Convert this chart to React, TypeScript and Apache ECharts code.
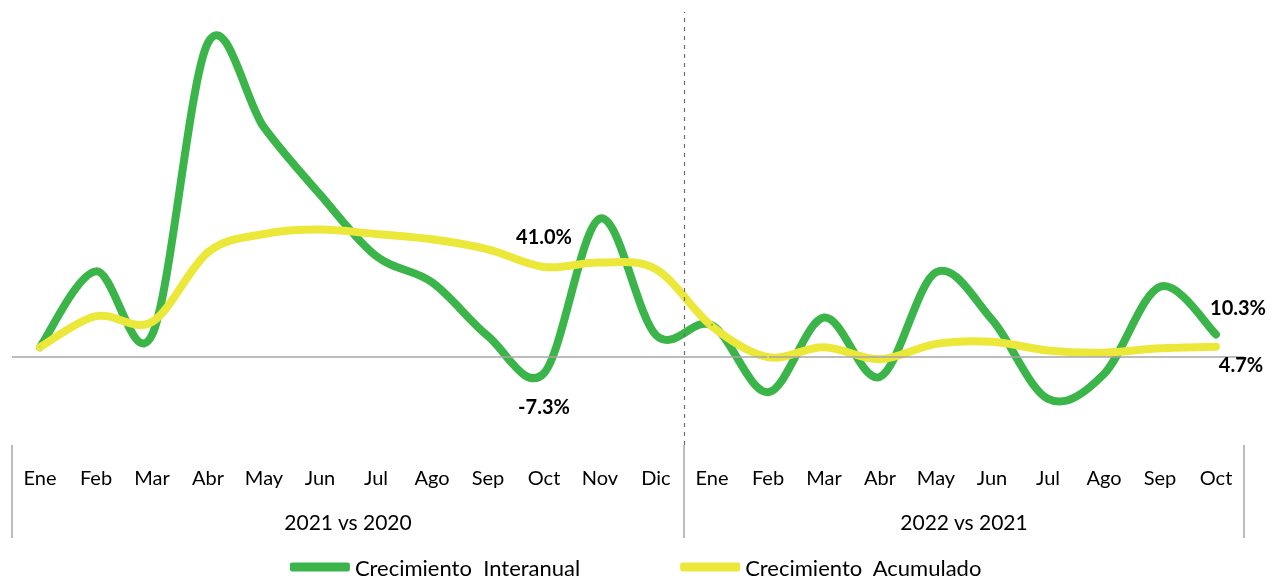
import React, { useEffect, useRef } from "react";
import * as echarts from "echarts";

const months2021 = ["Ene", "Feb", "Mar", "Abr", "May", "Jun", "Jul", "Ago", "Sep", "Oct", "Nov", "Dic"];
const months2022 = ["Ene", "Feb", "Mar", "Abr", "May", "Jun", "Jul", "Ago", "Sep", "Oct"];
const groupLabels = ["2021 vs 2020", "2022 vs 2021"];

const interanual = [4.5, 39, 10, 143, 104.5, 74, 46, 34, 9.5, -7.3, 63, 10, 14.5, -16, 18, -9, 38.6, 17, -19, -7.7, 32, 10.3];
const acumulado = [4.5, 18.6, 16, 47.7, 56, 58, 56, 53.6, 49, 41.0, 43, 40, 14, 0, 4.5, -1, 6, 7, 3, 2, 4, 4.7];

const FONT = "Lato, 'Noto Sans', sans-serif";
const GREEN = "#3bb54a";
const YELLOW = "#ebe83a";

function smoothSeries(name: string, values: number[], color: string, z: number) {
  return {
    name: name + "-curve",
    type: "custom",
    coordinateSystem: "cartesian2d",
    xAxisIndex: 0,
    yAxisIndex: 0,
    z,
    silent: true,
    encode: { x: 0, y: 1 },
    data: values.map((v, i) => [i, v]),
    renderItem: (params: any, api: any) => {
      if (params.dataIndex !== 0) return null;
      const pts = values.map((v, i) => api.coord([i, v]));
      const n = pts.length;
      const P = (k: number) => pts[Math.max(0, Math.min(n - 1, k))];
      let d = `M${pts[0][0]},${pts[0][1]}`;
      for (let i = 0; i < n - 1; i++) {
        const p0 = P(i - 1), p1 = P(i), p2 = P(i + 1), p3 = P(i + 2);
        const c1x = p1[0] + (p2[0] - p0[0]) / 6;
        const c1y = p1[1] + (p2[1] - p0[1]) / 6;
        const c2x = p2[0] - (p3[0] - p1[0]) / 6;
        const c2y = p2[1] - (p3[1] - p1[1]) / 6;
        d += ` C${c1x},${c1y} ${c2x},${c2y} ${p2[0]},${p2[1]}`;
      }
      return {
        type: "path",
        shape: { pathData: d },
        style: { fill: "none", stroke: color, lineWidth: 8, lineCap: "round", lineJoin: "round" },
      };
    },
  };
}

export default function App() {
  const ref = useRef<HTMLDivElement>(null);
  useEffect(() => {
    if (!ref.current) return;
    const chart = echarts.init(ref.current, undefined, { renderer: "svg" });
    const cats = [...months2021, ...months2022].map((m, i) => `${m}#${i}`);
    const n2021 = months2021.length;
    const total = cats.length;
    const fmt = (p: any) => `${Number(p.value).toFixed(1)}%`;
    const lbl = { show: true, fontFamily: FONT, fontSize: 20, fontWeight: "bold", color: "#000", formatter: fmt };

    const greenData: any[] = interanual.map((v) => v);
    greenData[9] = { value: interanual[9], label: { ...lbl, position: "bottom", distance: 22 } };
    greenData[total - 1] = { value: interanual[total - 1], label: { ...lbl, position: "top", distance: 16, offset: [22, 0] } };
    const yellowData: any[] = acumulado.map((v) => v);
    yellowData[9] = { value: acumulado[9], label: { ...lbl, position: "top", distance: 20 } };
    yellowData[total - 1] = { value: acumulado[total - 1], label: { ...lbl, position: "bottom", distance: 6, offset: [25, 0] } };

    chart.setOption({
      animation: false,
      grid: { left: 12, right: 28, top: 12, bottom: 135, containLabel: false },
      legend: {
        data: [
          { name: "Crecimiento  Interanual", icon: "roundRect", itemStyle: { color: GREEN } },
          { name: "Crecimiento  Acumulado", icon: "roundRect", itemStyle: { color: YELLOW } },
        ],
        left: "center",
        top: 556,
        padding: 0,
        itemWidth: 60,
        itemHeight: 9,
        itemGap: 100,
        textStyle: { fontFamily: FONT, fontSize: 22, lineHeight: 22, color: "#000" },
      },
      xAxis: [
        {
          type: "category",
          data: cats,
          boundaryGap: true,
          position: "bottom",
          axisLine: { show: false, onZero: false },
          axisTick: {
            show: true,
            inside: false,
            length: 93,
            interval: (i: number) => i === 0 || i === n2021,
            lineStyle: { color: "#a6a6a6", width: 1.5 },
          },
          splitLine: { show: false },
          axisLabel: {
            interval: 0,
            margin: 22,
            fontFamily: FONT,
            fontSize: 20,
            color: "#000",
            formatter: (v: string) => v.split("#")[0],
          },
        },
        {
          type: "value",
          min: 0,
          max: total,
          interval: 1,
          position: "bottom",
          axisLine: { show: false, onZero: false },
          axisTick: { show: false },
          splitLine: { show: false },
          axisLabel: {
            margin: 66,
            fontFamily: FONT,
            fontSize: 21,
            color: "#000",
            showMinLabel: true,
            showMaxLabel: true,
            formatter: (v: number) =>
              v === n2021 / 2 ? groupLabels[0] : v === n2021 + (total - n2021) / 2 ? groupLabels[1] : "",
          },
        },
      ],
      yAxis: {
        type: "value",
        min: -40,
        max: 157,
        show: false,
        splitLine: { show: false },
      },
      series: [
        {
          name: "ref",
          type: "line",
          xAxisIndex: 1,
          data: [],
          z: 1,
          markLine: {
            silent: true,
            symbol: "none",
            label: { show: false },
            data: [
              { yAxis: 0, lineStyle: { type: "solid", color: "#a6a6a6", width: 1.5 } },
              { xAxis: n2021, lineStyle: { type: [4, 5], color: "#6f6f6f", width: 1.2 } },
            ],
          },
        },
        smoothSeries("Crecimiento  Interanual", interanual, GREEN, 3),
        smoothSeries("Crecimiento  Acumulado", acumulado, YELLOW, 4),
        {
          name: "Crecimiento  Interanual",
          type: "line",
          data: greenData,
          showSymbol: true,
          symbol: "circle",
          symbolSize: 2,
          z: 5,
          lineStyle: { color: GREEN, width: 8, opacity: 0 },
          itemStyle: { color: GREEN },
        },
        {
          name: "Crecimiento  Acumulado",
          type: "line",
          data: yellowData,
          showSymbol: true,
          symbol: "circle",
          symbolSize: 2,
          z: 6,
          lineStyle: { color: YELLOW, width: 8, opacity: 0 },
          itemStyle: { color: YELLOW },
        },
      ],
    });
    return () => chart.dispose();
  }, []);
  return <div ref={ref} style={{ position: "fixed", left: 0, top: 0, width: 1272, height: 580 }} />;
}
